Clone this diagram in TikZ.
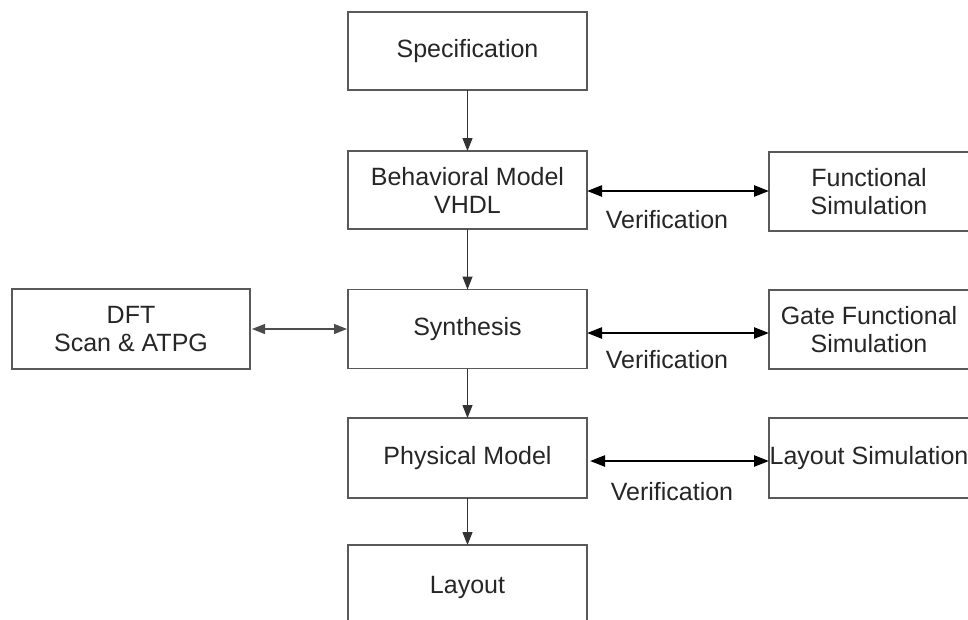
\documentclass[tikz,border=0pt]{standalone}
\usepackage{fontspec}
\setmainfont{Liberation Sans}
\usetikzlibrary{arrows.meta}
\begin{document}
\begin{tikzpicture}[x=1pt,y=-1pt,
  box/.style={draw=black!65, line width=1.1pt, fill=white, minimum width=239pt, minimum height=78pt,
    inner sep=0pt, outer sep=0pt, align=center, text=black!85,
    font=\fontsize{25}{28}\selectfont},
  rbox/.style={box, minimum width=200pt},
  flow/.style={draw=black!80, line width=1.1pt, -{Triangle[length=13pt,width=10pt]}},
  verif/.style={draw=black, line width=2.4pt, {Triangle[length=15pt,width=11pt]}-{Triangle[length=15pt,width=11pt]}},
  dftarrow/.style={draw=black!70, line width=1.1pt, {Triangle[length=13pt,width=10pt]}-{Triangle[length=13pt,width=10pt]}},
  lbl/.style={text=black!85, font=\fontsize{25}{28}\selectfont, inner sep=0pt}
]
\useasboundingbox (0,0) rectangle (968,619);
\fill[white] (0,0) rectangle (968,619);
\begin{scope}
\clip (0,0) rectangle (968,619);
\node[box] (spec) at (467.5,51) {\raisebox{-2pt}{Specification}};
\node[box] (beh) at (467.5,190) {Behavioral Model\\VHDL};
\node[box, minimum height=79pt] (syn) at (467.5,329) {\raisebox{-2pt}{Synthesis}};
\node[box, minimum height=80pt] (phys) at (467.5,458) {\raisebox{-2pt}{Physical Model}};
\node[box, minimum height=84pt] (lay) at (467.5,587) {\raisebox{-2pt}{Layout}};
\node[rbox, minimum height=79pt] (fun) at (869,191.5) {Functional\\Simulation};
\node[rbox, minimum height=79pt] (gate) at (869,329.5) {Gate Functional\\Simulation};
\node[rbox, minimum height=80pt] (lsim) at (869,458) {\raisebox{-2pt}{Layout Simulation}};
\node[box, minimum width=238pt, minimum height=80pt] (dft) at (131,329) {DFT\\Scan \& ATPG};

\draw[flow] (spec.south) -- (beh.north);
\draw[flow] (beh.south) -- (syn.north);
\draw[flow] (syn.south) -- (phys.north);
\draw[flow] (phys.south) -- (lay.north);

\draw[verif] (beh.east |- 0,191) -- (fun.west |- 0,191);
\draw[verif] (syn.east |- 0,333) -- (gate.west |- 0,333);
\draw[verif, shorten <=3pt] (phys.east |- 0,461) -- (lsim.west |- 0,461);
\draw[dftarrow, shorten <=2pt, shorten >=1pt] (dft.east |- 0,329) -- (syn.west |- 0,329);

\node[lbl] (v1) at (667,220) {Verification};
\node[lbl] (v2) at (667,360) {Verification};
\node[lbl] (v3) at (672,492) {Verification};
\end{scope}
\end{tikzpicture}
\end{document}
